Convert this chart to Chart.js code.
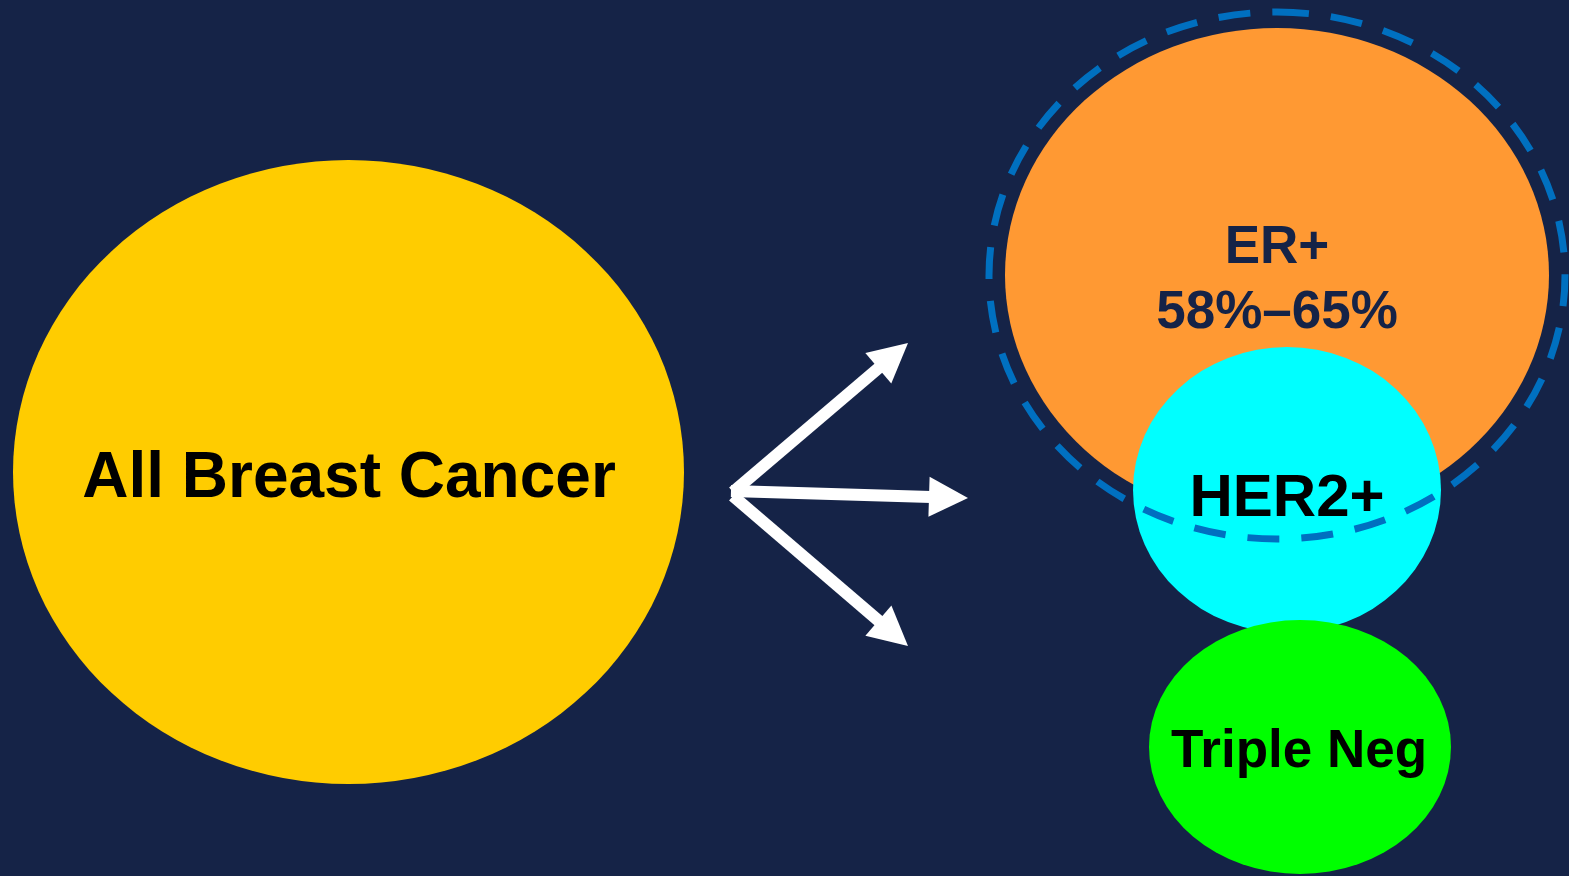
<!DOCTYPE html>
<html>
<head>
<meta charset="utf-8">
<title>Breast cancer subtypes</title>
<script src="https://cdn.jsdelivr.net/npm/chart.js@4.4.0/dist/chart.umd.min.js"></script>
<style>
  html, body { margin: 0; padding: 0; background: #152347; overflow: hidden; }
  #wrap { width: 1569px; height: 876px; }
</style>
</head>
<body>
<div id="wrap"><canvas id="subtypes" width="1569" height="876"></canvas></div>
<script>
// Groups and the share printed under ER+
const groups = ['All Breast Cancer', 'ER+', 'HER2+', 'Triple Neg'];
const groupShares = ['', '58%–65%', '', ''];

// Oval centres and radii in axis units (x 0..1569, y 0..876 downwards)
const ovalX = [348.5, 1277, 1287, 1300];
const ovalY = [472, 275, 490, 747];
const ovalRx = [335.5, 272, 154, 151];
const ovalRy = [312, 247, 143, 127];

// Dashed ring around the ER+ oval
const ringX = [1277];
const ringY = [275.5];
const ringRx = [288];
const ringRy = [263.5];

// Arrows from the big oval towards the subtypes
const arrowFromX = [733, 731, 733];
const arrowFromY = [492, 491, 496];
const arrowToX = [908, 968, 908];
const arrowToY = [343, 498, 646];

// Label anchors (middle of the text block)
const labelX = [349, 1277, 1287, 1299];
const labelY = [474.5, 276.75, 495, 748];

const BG = '#152347';
const ovalColors = ['#ffcc00', '#ff9933', '#00ffff', '#00ff00'];
const labelColors = ['#000000', '#152347', '#000000', '#000000'];
const labelSizes = [64, 53, 60, 53];
const FONT = '"Liberation Sans", Arial, sans-serif';

function radiusPx(scale, centre, r) {
    return Math.abs(scale.getPixelForValue(centre + r) - scale.getPixelForValue(centre));
}

const diagramPlugin = {
    id: 'diagram',
    beforeDraw(chart) {
        const ctx = chart.ctx;
        ctx.save();
        ctx.fillStyle = BG;
        ctx.fillRect(0, 0, chart.width, chart.height);
        ctx.restore();
    },
    afterDatasetsDraw(chart) {
        const { ctx, scales: { x, y } } = chart;

        // filled ovals
        chart.getDatasetMeta(0).data.forEach((pt, i) => {
            ctx.save();
            ctx.fillStyle = ovalColors[i];
            ctx.beginPath();
            ctx.ellipse(pt.x, pt.y, radiusPx(x, ovalX[i], ovalRx[i]), radiusPx(y, ovalY[i], ovalRy[i]), 0, 0, Math.PI * 2);
            ctx.fill();
            ctx.restore();
        });

        // dashed ring
        chart.getDatasetMeta(1).data.forEach((pt, i) => {
            ctx.save();
            ctx.strokeStyle = '#0070c0';
            ctx.lineWidth = 7;
            ctx.setLineDash([32, 22]);
            ctx.beginPath();
            ctx.ellipse(pt.x, pt.y, radiusPx(x, ringX[i], ringRx[i]), radiusPx(y, ringY[i], ringRy[i]), 0, -Math.PI / 2, Math.PI * 1.5);
            ctx.stroke();
            ctx.restore();
        });

        // arrows: shaft up to the head base, then a filled head
        for (let d = 2; d < 5; d++) {
            const [a, b] = chart.getDatasetMeta(d).data;
            const dx = b.x - a.x, dy = b.y - a.y;
            const len = Math.hypot(dx, dy);
            const ux = dx / len, uy = dy / len;
            const headLen = 39, headHalf = 20;
            const bx = b.x - ux * headLen, by = b.y - uy * headLen;
            ctx.save();
            ctx.strokeStyle = '#ffffff';
            ctx.fillStyle = '#ffffff';
            ctx.lineWidth = 12;
            ctx.lineCap = 'butt';
            ctx.beginPath();
            ctx.moveTo(a.x, a.y);
            ctx.lineTo(bx + ux * 2, by + uy * 2);
            ctx.stroke();
            ctx.beginPath();
            ctx.moveTo(b.x, b.y);
            ctx.lineTo(bx - uy * headHalf, by + ux * headHalf);
            ctx.lineTo(bx + uy * headHalf, by - ux * headHalf);
            ctx.closePath();
            ctx.fill();
            ctx.restore();
        }

        // labels
        groups.forEach((name, i) => {
            const lines = groupShares[i] ? [name, groupShares[i]] : [name];
            const size = labelSizes[i];
            const cap = size * 0.716;
            const gap = 64.5;
            const cx = x.getPixelForValue(labelX[i]);
            const cy = y.getPixelForValue(labelY[i]);
            const top = cy - (lines.length - 1) * gap / 2;
            ctx.save();
            ctx.font = `bold ${size}px ${FONT}`;
            ctx.fillStyle = labelColors[i];
            ctx.textAlign = 'center';
            ctx.textBaseline = 'alphabetic';
            lines.forEach((line, k) => {
                ctx.fillText(line, cx, top + k * gap + cap / 2);
            });
            ctx.restore();
        });
    }
};

new Chart(document.getElementById('subtypes'), {
    type: 'scatter',
    data: {
        datasets: [
            { label: 'ovals', data: ovalX.map((v, i) => ({ x: v, y: ovalY[i] })), pointRadius: 0 },
            { label: 'ring', data: ringX.map((v, i) => ({ x: v, y: ringY[i] })), pointRadius: 0 },
            ...arrowToX.map((tx, i) => ({
                label: 'arrow ' + (i + 1),
                data: [{ x: arrowFromX[i], y: arrowFromY[i] }, { x: tx, y: arrowToY[i] }],
                pointRadius: 0,
                showLine: false
            }))
        ]
    },
    options: {
        responsive: false,
        animation: false,
        layout: { padding: 0 },
        plugins: { legend: { display: false }, tooltip: { enabled: false } },
        events: [],
        scales: {
            x: { type: 'linear', min: 0, max: 1569, display: false },
            y: { type: 'linear', min: 0, max: 876, reverse: true, display: false }
        }
    },
    plugins: [diagramPlugin]
});
</script>
</body>
</html>
